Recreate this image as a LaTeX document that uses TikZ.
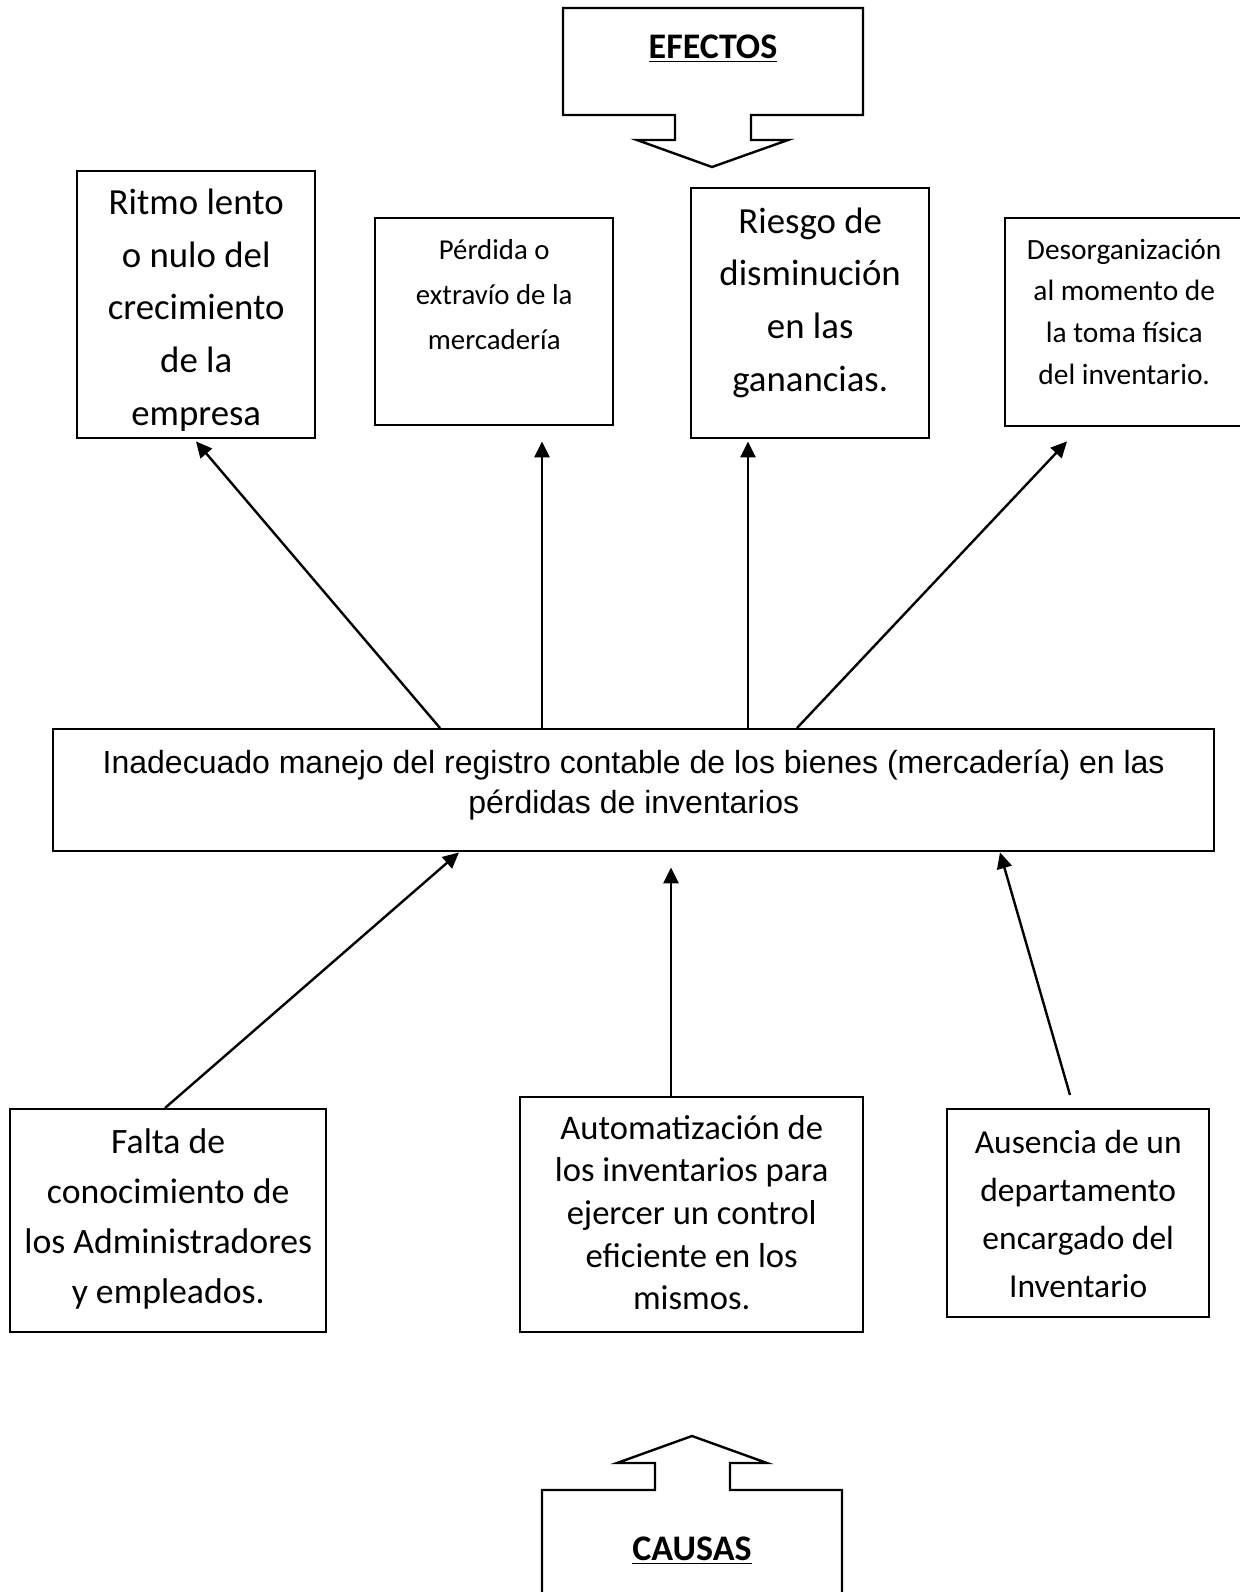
\documentclass[tikz,border=0pt]{standalone}
\usepackage{fontspec}
\setmainfont{Carlito}
\newfontfamily\arialfont{Liberation Sans}
\usetikzlibrary{arrows.meta}

% text set from the top of a box: width, height, first baseline, text
\newcommand{\boxtext}[4]{\parbox[c][#2][t]{#1}{\centering\rule{0pt}{#3}#4}}

\begin{document}
\begin{tikzpicture}[x=0.5pt,y=-0.5pt,
    cell/.style={draw,line width=1.2pt,inner sep=0pt,anchor=north west},
    arr/.style={line width=1.2pt,-{Triangle[length=8pt,width=7.5pt]}},
    outline/.style={draw,line width=1.2pt,line join=miter},
    headtext/.style={inner sep=0pt,anchor=base,font=\fontsize{18}{22}\selectfont\bfseries}]
\useasboundingbox (0,0) rectangle (1240,1592);

% Headings:
% Box and arrow in one outline:
\draw[outline] (563,8) -- (863,8) -- (863,115) -- (751,115) -- (751,140) -- (788,140)
    -- (712,167) -- (637,140) -- (675,140) -- (675,115) -- (563,115) -- cycle;
\node[headtext] (efectos) at (713,58) {\underline{EFECTOS}};
\draw[outline] (542,1620) -- (542,1490) -- (655,1490) -- (655,1463) -- (617,1463)
    -- (692,1436) -- (767,1463) -- (730,1463) -- (730,1490) -- (842,1490) -- (842,1620);
\node[headtext] (causas) at (692,1560) {\underline{CAUSAS}};

% Effects:
\node[cell,font=\fontsize{18.4}{26.4}\selectfont] (efA) at (76,170)
    {\boxtext{119pt}{133.5pt}{21.5pt}{Ritmo lento\\ o nulo del\\ crecimiento\\ de la\\ empresa}};
\node[cell,font=\fontsize{14.4}{22.4}\selectfont] (efB) at (374,217)
    {\boxtext{119pt}{103.5pt}{20.8pt}{Pérdida o\\ extravío de la\\ mercadería}};
\node[cell,font=\fontsize{18.4}{26.3}\selectfont] (efC) at (690,187)
    {\boxtext{119pt}{125pt}{22.5pt}{Riesgo de\\ disminución\\ en las\\ ganancias.}};
\node[cell,font=\fontsize{14.7}{20.8}\selectfont] (efD) at (1004,217)
    {\boxtext{119pt}{104pt}{20.5pt}{Desorganización\\ al momento de\\ la toma física\\ del inventario.}};

% Problem:
\node[cell,font=\arialfont\fontsize{16}{20}\selectfont] (main) at (52,728)
    {\boxtext{580.5pt}{61pt}{22pt}{Inadecuado manejo del registro contable de los bienes (mercadería) en las\\ pérdidas de inventarios}};

% Causes:
\node[cell,font=\fontsize{17.85}{25}\selectfont] (caA) at (9,1108)
    {\boxtext{158pt}{111.5pt}{22pt}{Falta de\\ conocimiento de\\ los Administradores\\ y empleados.}};
\node[cell,font=\fontsize{17.3}{21.3}\selectfont] (caB) at (519,1096)
    {\boxtext{171.5pt}{117.5pt}{21pt}{Automatización de\\ los inventarios para\\ ejercer un control\\ eficiente en los\\ mismos.}};
\node[cell,font=\fontsize{16.75}{24}\selectfont] (caC) at (946,1108)
    {\boxtext{131pt}{104pt}{22pt}{Ausencia de un\\ departamento\\ encargado del\\ Inventario}};

% Arrows to the effects:
\draw[arr] ([xshift=194pt]main.north west) -- ([xshift=60pt,yshift=-1pt]efA.south west);
\draw[arr] ([xshift=245pt]main.north west) -- ([xshift=84pt,yshift=-7.5pt]efB.south west);
\draw[arr] ([xshift=348pt]main.north west) -- ([xshift=29pt,yshift=-1pt]efC.south west);
\draw[arr] ([xshift=372.5pt]main.north west) -- ([xshift=31.5pt,yshift=-7pt]efD.south west);

% Arrows from the causes:
\draw[arr] ([xshift=78pt]caA.north west) -- ([xshift=203.5pt]main.south west);
\draw[arr] ([xshift=76pt]caB.north west) -- ([xshift=309.5pt,yshift=-7.5pt]main.south west);
\draw[arr] ([xshift=62pt,yshift=6.5pt]caC.north west) -- ([xshift=474pt]main.south west);
\end{tikzpicture}
\end{document}
